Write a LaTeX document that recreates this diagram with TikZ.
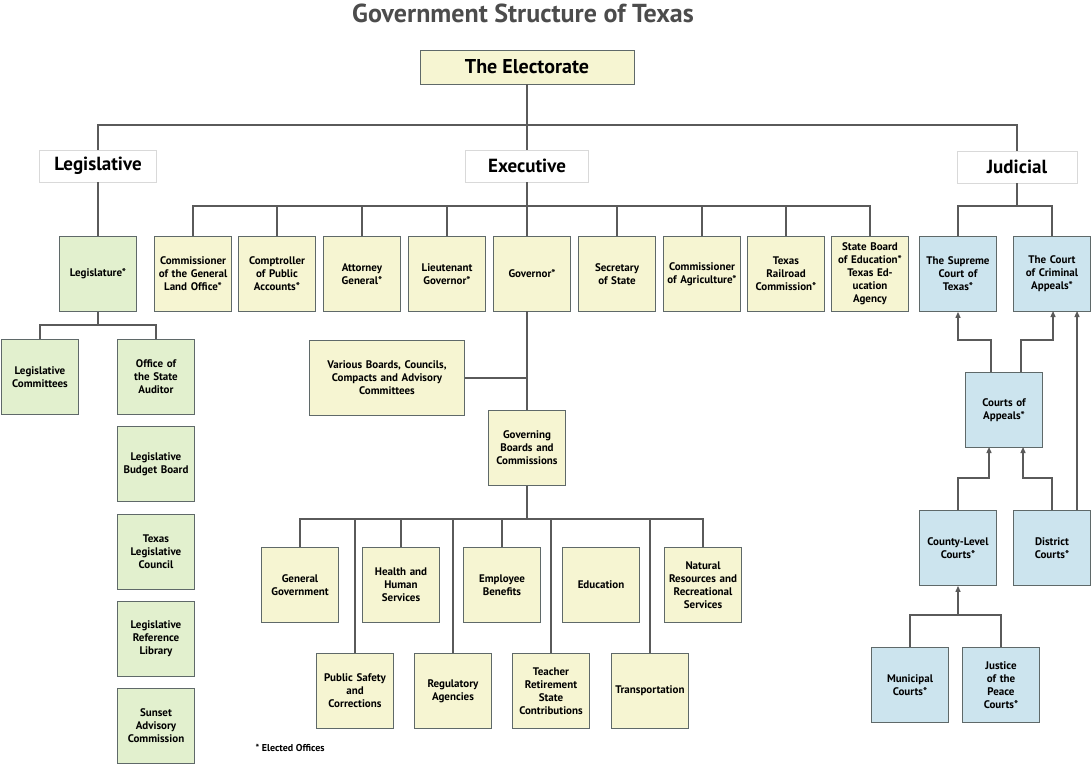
\documentclass[tikz,border=0pt]{standalone}
\usepackage{fontspec}
\setmainfont{PT Sans}
\usetikzlibrary{arrows.meta}
\definecolor{legfill}{RGB}{226,240,206}
\definecolor{exefill}{RGB}{246,245,210}
\definecolor{judfill}{RGB}{204,228,238}
\definecolor{boxline}{RGB}{95,105,105}
\definecolor{wire}{RGB}{90,90,90}

\begin{document}
\begin{tikzpicture}[x=1pt,y=-1pt]
		\tikzstyle{office}=[draw=boxline,line width=0.8pt,minimum width=77pt,minimum height=75pt,align=center,font=\fontsize{11}{13}\selectfont\bfseries,inner sep=2pt,text width=73pt]
		\tikzstyle{leg office}=[office,fill=legfill]
		\tikzstyle{exe office}=[office,fill=exefill]
		\tikzstyle{jud office}=[office,fill=judfill]
		\tikzstyle{branch}=[draw=black!15,fill=white,minimum height=32pt,font=\fontsize{19}{22}\selectfont\bfseries]
		\tikzstyle{wire}=[draw=wire,line width=1.3pt]
		\tikzstyle{up}=[wire,-{Triangle[width=5pt,length=6pt]}]
		\useasboundingbox (0,0) rectangle (1091,764);

			% Title and the top of the chart
		\node[font=\fontsize{26}{30}\selectfont\bfseries,text=black!70] (title) at (523,13) {Government Structure of Texas};
		\node[draw=boxline,fill=exefill,minimum width=214pt,minimum height=34pt,font=\fontsize{20}{24}\selectfont\bfseries] (elect) at (527,67) {The Electorate};
		\node[branch,minimum width=117pt] (leg) at (98,166) {Legislative};
		\node[branch,minimum width=123pt] (exe) at (527,166) {Executive};
		\node[branch,minimum width=120pt] (jud) at (1017,167) {Judicial};
		\coordinate (top) at (527,125);
		\draw[wire] (elect.south) -- (top);
		\draw[wire] (leg.north) |- (top) -| (jud.north);
		\draw[wire] (top) -- (exe.north);

			% Legislative branch
		\node[leg office] (L-law) at (98,274) {Legislature*};
		\node[leg office] (L-com) at (40,377) {Legislative\\Committees};
		\node[leg office] (L-aud) at (156,377) {Office of\\the State\\Auditor};
		\node[leg office] (L-bud) at (156,464) {Legislative\\Budget Board};
		\node[leg office] (L-cou) at (156,552) {Texas\\Legislative\\Council};
		\node[leg office] (L-lib) at (156,639) {Legislative\\Reference\\Library};
		\node[leg office] (L-sun) at (156,726) {Sunset\\Advisory\\Commission};
		\draw[wire] (leg.south) -- (L-law.north);
		\draw[wire] (L-law.south) -- (98,325) coordinate (L-split);
		\draw[wire] (L-com.north) |- (L-split) -| (L-aud.north);

			% Executive branch, the row of elected offices
		\foreach \name/\x/\txt in {1/193/Commissioner\\of the General\\Land Office*,
		                          2/277/Comptroller\\of Public\\Accounts*,
		                          3/362/Attorney\\General*,
		                          4/447/Lieutenant\\Governor*,
		                          5/532/Governor*,
		                          6/617/Secretary\\of State,
		                          7/702/Commissioner\\of Agriculture*,
		                          8/786/Texas\\Railroad\\Commission*,
		                          9/870/State Board\\of Education*\\Texas Education\\Agency}
		\node[exe office] (E-\name) at (\x,274) {\txt};
		\draw[wire] (E-1.north) |- (527,206) -| (E-9.north);
		\draw[wire] (exe.south) -- (527,236);
		\foreach \name in {2,3,4,6,7,8}
		\draw[wire] (E-\name.north) -- (E-\name.north |- 527,206);

			% Below the governor
		\node[exe office,minimum width=155pt,text width=150pt] (E-var) at (387,378) {Various Boards, Councils,\\Compacts and Advisory\\Committees};
		\node[exe office] (E-gov) at (527,448) {Governing\\Boards and\\Commissions};
		\draw[wire] (527,311) -- (E-gov.north);
		\draw[wire] (E-var.east) -- (527,378);
		\draw[wire] (E-gov.south) -- (527,519) coordinate (E-split);

		\foreach \name/\x/\txt in {a/300/General\\Government, b/401/Health and\\Human\\Services, c/502/Employee\\Benefits, d/601/Education, e/703/Natural\\Resources and\\Recreational\\Services}
		\node[exe office] (G-\name) at (\x,585) {\txt};
		\foreach \name/\x/\txt in {f/355/Public Safety\\and\\Corrections, g/453/Regulatory\\Agencies, h/551/Teacher\\Retirement\\State\\Contributions, i/650/Transportation}
		\node[exe office] (G-\name) at (\x,691) {\txt};
		\draw[wire] (G-a.north) |- (E-split) -| (G-e.north);
		\foreach \name in {b,c,f,g,h,i}
		\draw[wire] (G-\name.north) -- (G-\name.north |- E-split);

			% Judicial branch
		\node[jud office] (J-sup) at (958,274) {The Supreme\\Court of\\Texas*};
		\node[jud office] (J-cri) at (1052,274) {The Court\\of Criminal\\Appeals*};
		\node[jud office] (J-app) at (1004,410) {Courts of\\Appeals*};
		\node[jud office] (J-cty) at (958,548) {County-Level\\Courts*};
		\node[jud office] (J-dis) at (1052,548) {District\\Courts*};
		\node[jud office] (J-mun) at (910,685) {Municipal\\Courts*};
		\node[jud office] (J-jus) at (1001,685) {Justice\\of the\\Peace\\Courts*};
		\draw[wire] (jud.south) -- (1017,206);
		\draw[wire] (J-sup.north) |- (1017,206) -| (J-cri.north);
		\draw[up] (991,372) |- (958,340) -- (J-sup.south);
		\draw[up] (1021,372) |- (1053,340) -- (1053,311);
		\draw[up] (1077,510) -- (1077,311);
		\draw[up] (J-cty.north) |- (989,478) -- (989,447);
		\draw[up] (J-dis.north) |- (1023,478) -- (1023,447);
		\draw[wire] (J-mun.north) |- (958,615) -| (J-jus.north);
		\draw[up] (958,615) -- (J-cty.south);

		\node[anchor=west,font=\fontsize{10}{12}\selectfont\bfseries] (note) at (252,748) {* Elected Offices};
		\end{tikzpicture}
\end{document}
